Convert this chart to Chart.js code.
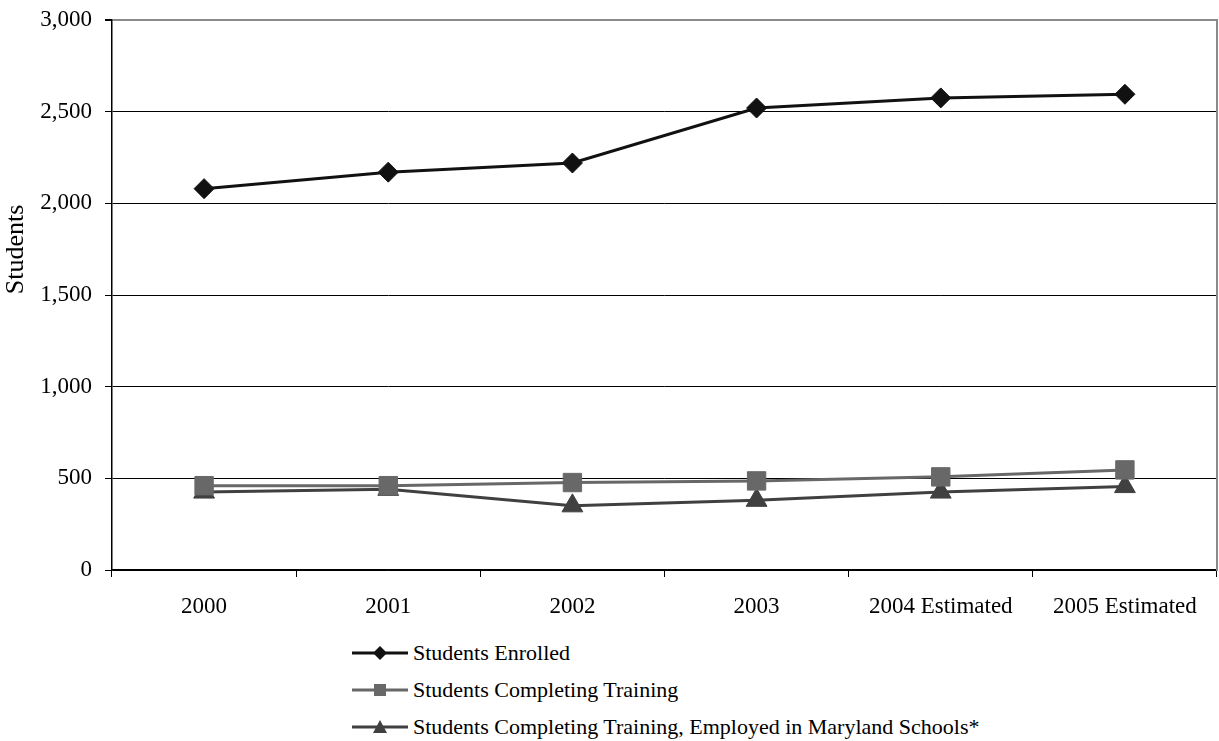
<!DOCTYPE html>
<html>
<head>
<meta charset="utf-8">
<script src="https://cdn.jsdelivr.net/npm/chart.js@4/dist/chart.umd.min.js"></script>
<style>
  body { margin: 0; background: #fff; }
  #wrap { position: relative; width: 1219px; height: 741px; }
  #chartBox { position: absolute; left: 0; top: 0; width: 1219px; height: 630px; }
  #legend { position: absolute; left: 352px; top: 634px; font-family: "Liberation Serif", "Times New Roman", serif; font-size: 22px; color: #000; }
  .item { display: flex; align-items: center; height: 37px; }
  .item svg { margin-right: 5px; }
</style>
</head>
<body>
<div id="wrap">
  <div id="chartBox"><canvas id="chart"></canvas></div>
  <div id="legend"></div>
</div>
<script>
// chart data
const years = ['2000', '2001', '2002', '2003', '2004 Estimated', '2005 Estimated'];
const enrolled = [2080, 2170, 2220, 2520, 2575, 2595];
const completing = [460, 460, 477, 486, 508, 546];
const employed = [425, 440, 350, 380, 425, 455];
const yTicks = [0, 500, 1000, 1500, 2000, 2500, 3000];

const seriesNames = [
  'Students Enrolled',
  'Students Completing Training',
  'Students Completing Training, Employed in Maryland Schools*'
];
const seriesColors = ['#111111', '#686868', '#404040'];
const seriesMarkers = ['rectRot', 'rect', 'triangle'];

const font = { family: '"Liberation Serif", "Times New Roman", serif', size: 23 };

const ctx = document.getElementById('chart').getContext('2d');
new Chart(ctx, {
  type: 'line',
  data: {
    labels: years,
    datasets: [
      { label: seriesNames[0], data: enrolled, borderColor: seriesColors[0], backgroundColor: seriesColors[0],
        borderWidth: 3, pointStyle: 'rectRot', pointRadius: 10, pointBorderWidth: 1 },
      { label: seriesNames[1], data: completing, borderColor: seriesColors[1], backgroundColor: seriesColors[1],
        borderWidth: 3, pointStyle: 'rect', pointRadius: 13, pointBorderWidth: 1 },
      { label: seriesNames[2], data: employed, borderColor: seriesColors[2], backgroundColor: seriesColors[2],
        borderWidth: 3, pointStyle: 'triangle', pointRadius: 12, pointBorderWidth: 1 }
    ]
  },
  options: {
    responsive: true,
    maintainAspectRatio: false,
    animation: false,
    layout: { autoPadding: false, padding: { top: 20, right: 2, left: 0, bottom: 0 } },
    plugins: { legend: { display: false }, tooltip: { enabled: false } },
    scales: {
      x: {
        offset: true,
        grid: { offset: true, drawOnChartArea: false, tickLength: 7, color: '#000', lineWidth: 1 },
        border: { color: '#000', width: 1.5 },
        ticks: { color: '#000', font: font, padding: 16, maxRotation: 0 },
        afterFit: scale => { scale.height = 60; scale.paddingLeft = 0; scale.paddingRight = 0; }
      },
      y: {
        min: 0,
        max: 3000,
        afterBuildTicks: scale => { scale.ticks = yTicks.map(v => ({ value: v })); },
        grid: {
          color: c => (c.tick && c.tick.value === 3000) ? '#8a8a8a' : '#000',
          lineWidth: c => (c.tick && c.tick.value === 3000) ? 2 : 1,
          tickColor: '#000',
          tickLength: 7
        },
        border: { color: '#000', width: 1.5 },
        ticks: { color: '#000', font: font, padding: 13, callback: v => v.toLocaleString('en-US') },
        // leading spaces lift the title toward the top, as in the original
        title: { display: true, text: '              Students', color: '#000', font: { family: font.family, size: 26 }, padding: { top: 1, bottom: 0 } },
        afterFit: scale => { scale.width = 112; scale.paddingTop = 0; scale.paddingBottom = 0; }
      },
      y2: {
        position: 'right',
        min: 0,
        max: 3000,
        grid: { drawOnChartArea: false, drawTicks: false },
        border: { color: '#8a8a8a', width: 2 },
        ticks: { display: false },
        afterFit: scale => { scale.width = 0; scale.paddingTop = 0; scale.paddingBottom = 0; }
      }
    }
  }
});

// html legend: line with marker, then the name
function markerSvg(kind, color) {
  let shape = '';
  if (kind === 'rectRot') shape = `<polygon points="28,2 35,9 28,16 21,9" fill="${color}"/>`;
  if (kind === 'rect') shape = `<rect x="22" y="3" width="12" height="12" fill="${color}"/>`;
  if (kind === 'triangle') shape = `<polygon points="28,2 35,15 21,15" fill="${color}"/>`;
  return `<svg width="56" height="18"><line x1="0" y1="9" x2="56" y2="9" stroke="${color}" stroke-width="3"/>${shape}</svg>`;
}
const legend = document.getElementById('legend');
seriesNames.forEach((name, i) => {
  const row = document.createElement('div');
  row.className = 'item';
  row.innerHTML = markerSvg(seriesMarkers[i], seriesColors[i]) + '<span>' + name + '</span>';
  legend.appendChild(row);
});
</script>
</body>
</html>
